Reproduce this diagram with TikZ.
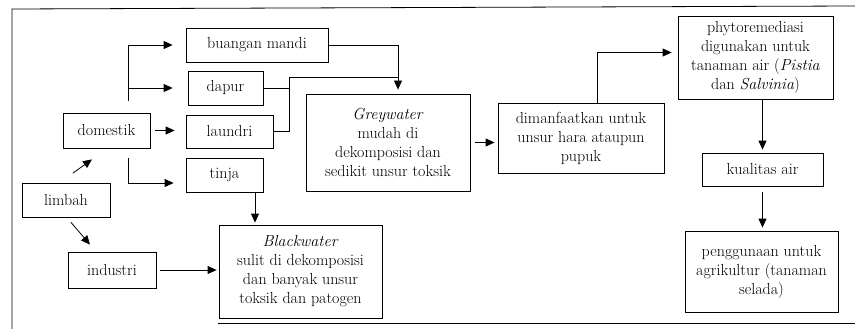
\documentclass[tikz,border=0pt]{standalone}
\usetikzlibrary{arrows.meta,calc}
\tikzset{
  box/.style={draw, line width=0.8pt, inner sep=0pt, align=center,
    font=\fontsize{16}{19}\selectfont},
  arr/.style={line width=0.8pt, -{Triangle[length=9pt,width=8pt]}},
  ln/.style={line width=0.8pt},
}
\begin{document}
\begin{tikzpicture}[x=1pt,y=-1pt]
\useasboundingbox (0,0) rectangle (855,329);
% frame
\draw[ln] (12,329) -- (12,9) -- (855,6);
\draw[ln] (218,323) -- (855,323);
% nodes
\node[box, minimum width=142pt, minimum height=34pt] (bm) at (257,45) {buangan mandi};
\node[box, minimum width=75pt, minimum height=34pt] (dapur) at (225.5,88) {dapur};
\node[box, minimum width=87pt, minimum height=33pt] (laundri) at (229.5,131.5) {laundri};
\node[box, minimum width=77pt, minimum height=34pt] (tinja) at (224.5,175) {tinja};
\node[box, minimum width=87pt, minimum height=35pt] (domestik) at (106.5,130.5) {domestik};
\node[box, minimum width=88pt, minimum height=34pt] (limbah) at (66,200) {limbah};
\node[box, minimum width=88pt, minimum height=36pt] (industri) at (112,270) {industri};
\node[box, minimum width=163pt, minimum height=93pt] (black) at (300.5,271.5)
  {\textit{Blackwater}\\sulit di dekomposisi\\dan banyak unsur\\toksik dan patogen};
\node[box, minimum width=164pt, minimum height=97pt] (grey) at (388,142.5)
  {\textit{Greywater}\\mudah di\\dekomposisi dan\\sedikit unsur toksik};
\node[box, minimum width=166pt, minimum height=70pt] (diman) at (581,138)
  {dimanfaatkan untuk\\unsur hara ataupun\\pupuk};
\node[box, minimum width=155pt, minimum height=83pt] (phyto) at (755.5,57.5)
  {phytoremediasi\\digunakan untuk\\tanaman air (\textit{Pistia}\\dan \textit{Salvinia})};
\node[box, minimum width=121pt, minimum height=33pt] (kual) at (762.5,169.5) {kualitas air};
\node[box, minimum width=153pt, minimum height=81pt] (peng) at (761.5,271.5)
  {penggunaan untuk\\agrikultur (tanaman\\selada)};
% helper coordinates
\coordinate (dtop) at ($(domestik.north)+(21.5,0)$);
\coordinate (dbot) at ($(domestik.south)+(21.5,0)$);
\coordinate (tin) at ($(tinja.west)+(0,8)$);
\coordinate (tsx) at ($(tinja.south)+(30.5,0)$);
\coordinate (gtop) at ($(grey.north)+(10,0)$);
\coordinate (j) at (289,77);
\coordinate (dnx) at ($(diman.north)+(16,0)$);
\coordinate (pin) at ($(phyto.west)+(0,-5)$);
% connectors
\draw[arr, shorten <=6pt] ($(limbah.north)+(2,-6)$) -- ($(domestik.south)+(-14.5,11)$);
\draw[arr] ($(limbah.south)+(5,5)$) -- ($(industri.north)+(-22,-7)$);
\draw[arr, shorten <=12pt, shorten >=13pt] (dtop) |- (bm.west);
\draw[arr, shorten <=12pt, shorten >=15pt] (dtop) |- (dapur.west);
\draw[arr, shorten <=5pt, shorten >=11pt] (domestik.east) -- (domestik.east -| laundri.west);
\draw[arr, shorten <=10pt, shorten >=12pt] (dbot) |- (tin);
\draw[arr, shorten >=2pt] (tsx) -- (tsx |- black.north);
\draw[arr, shorten <=4pt, shorten >=2pt] (industri.east) -- (industri.east -| black.west);
\draw[arr, shorten >=4pt] (bm.east) -| (gtop);
\draw[ln] (dapur.east) -- (dapur.east -| j);
\draw[ln] (laundri.east) -| (j) -- (j -| gtop);
\draw[arr, shorten <=5pt, shorten >=3pt] (grey.east) -- (grey.east -| diman.west);
\draw[arr, shorten >=6pt] (dnx) |- (pin);
\draw[arr, shorten >=3pt] (kual.north |- phyto.south) -- (kual.north);
\draw[arr, shorten <=6pt, shorten >=3pt] (kual.south) -- (kual.south |- peng.north);
\end{tikzpicture}
\end{document}
